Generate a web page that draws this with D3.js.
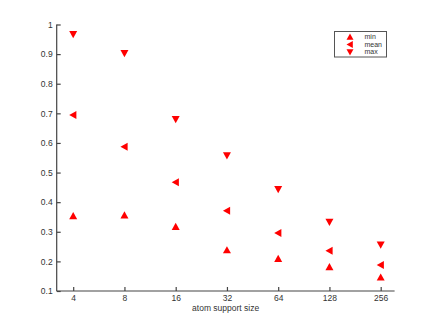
<!DOCTYPE html>
<html><head><meta charset="utf-8">
<script src="https://cdn.jsdelivr.net/npm/d3@7"></script>
<style>body{margin:0;background:#fff}svg{display:block}</style>
</head><body>
<script>
const sizes = [4, 8, 16, 32, 64, 128, 256];
const minVals  = [0.353, 0.356, 0.317, 0.238, 0.209, 0.181, 0.146];
const meanVals = [0.694, 0.587, 0.467, 0.371, 0.296, 0.236, 0.188];
const maxVals  = [0.967, 0.903, 0.680, 0.558, 0.444, 0.333, 0.256];
const yTicks = [0.1, 0.2, 0.3, 0.4, 0.5, 0.6, 0.7, 0.8, 0.9, 1];
const seriesNames = ["min", "mean", "max"];

const W = 436, H = 327;
const svg = d3.select("body").append("svg").attr("width", W).attr("height", H);
const pLeft = 56.7, pRight = 394.6, pTop = 24.5, pBottom = 291;
const x = d3.scaleLog().base(2).domain([3.2, 309]).range([pLeft, pRight]);
const y = d3.scaleLinear().domain([0.1, 1]).range([pBottom, pTop]);
const font = "Liberation Sans, Arial, Helvetica, sans-serif";
const axCol = "#444";

const xAxis = d3.axisBottom(x).tickValues(sizes).tickFormat(d3.format("d")).tickSizeInner(-4).tickSizeOuter(0).tickPadding(4);
const gx = svg.append("g").attr("transform", `translate(0,${pBottom})`).call(xAxis);
gx.select(".domain").attr("d", `M${pLeft},0H${pRight}`);
const yAxis = d3.axisLeft(y).tickValues(yTicks).tickFormat(d => d3.format("~g")(d)).tickSizeInner(-4).tickSizeOuter(0).tickPadding(4);
const gy = svg.append("g").attr("transform", `translate(${pLeft},0)`).call(yAxis);
gy.select(".domain").attr("d", `M0,${pTop}V${pBottom}`);
svg.selectAll(".domain, .tick line").attr("stroke", axCol).attr("stroke-width", 1.2);
svg.selectAll(".tick text").attr("fill", "#333").attr("font-family", font).attr("font-size", "8.5px");

svg.append("text").attr("x", (pLeft + pRight) / 2).attr("y", 311).attr("text-anchor", "middle")
  .attr("font-family", font).attr("font-size", "8.5px").attr("fill", "#333").text("atom support size");

function tri(dir, s) {
  const h = s / 2;
  if (dir === "up") return `M0,${-h}L${h},${h * 0.8}L${-h},${h * 0.8}Z`;
  if (dir === "down") return `M0,${h}L${h},${-h * 0.8}L${-h},${-h * 0.8}Z`;
  return `M${-h},0L${h * 0.8},${-h}L${h * 0.8},${h}Z`;
}
const series = [[minVals, "up"], [meanVals, "left"], [maxVals, "down"]];
series.forEach(([vals, dir]) => {
  svg.append("g").selectAll("path").data(sizes).join("path")
    .attr("transform", (d, i) => `translate(${x(d)},${y(vals[i])})`)
    .attr("d", tri(dir, 8)).attr("fill", "#ff0000");
});

// legend
const lg = svg.append("g");
lg.append("rect").attr("x", 334.5).attr("y", 31.5).attr("width", 52).attr("height", 25.5)
  .attr("fill", "#fff").attr("stroke", "#555").attr("stroke-width", 1);
const dirs = ["up", "left", "down"];
seriesNames.forEach((n, i) => {
  const yy = 37 + i * 7.5;
  lg.append("path").attr("transform", `translate(350,${yy})`).attr("d", tri(dirs[i], 7)).attr("fill", "#ff0000");
  lg.append("text").attr("x", 364.5).attr("y", yy + 2.4).attr("font-family", font).attr("font-size", "7px")
    .attr("fill", "#333").text(n);
});
</script>
</body></html>
